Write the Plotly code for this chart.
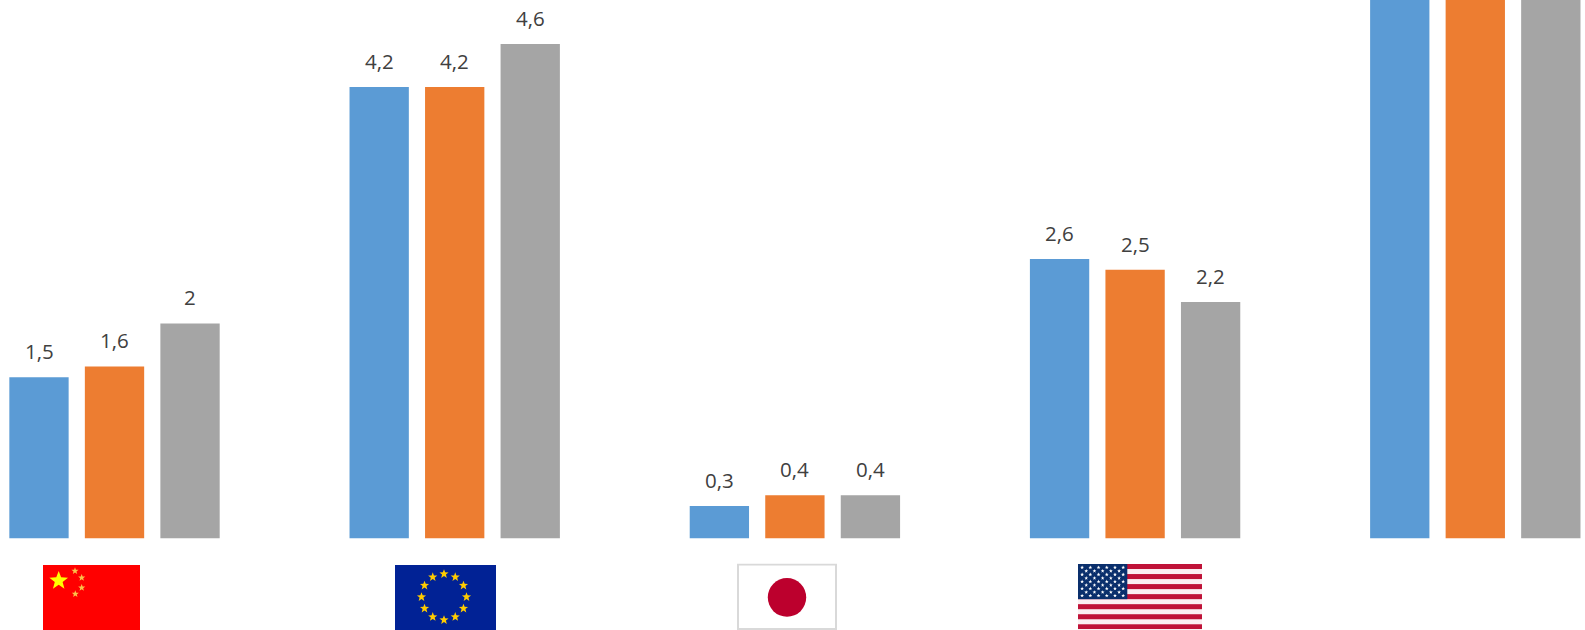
import base64
import math
import plotly.graph_objects as go

# ---- data ----
categories = ["China", "UE", "Japón", "EE.UU.", "Otros"]
series_a = [1.5, 4.2, 0.3, 2.6, 5.6]
series_b = [1.6, 4.2, 0.4, 2.5, 5.6]
series_c = [2.0, 4.6, 0.4, 2.2, 5.6]
series_names = ["Serie 1", "Serie 2", "Serie 3"]
series_colors = ["#5B9BD5", "#ED7D31", "#A5A5A5"]

W, H = 1585, 630
Y_TOP = 5.01
Y_BOTTOM = -0.853
SLOT_PX = 75.5
LABEL_LIFT_PX = 26


def star(cx, cy, r, fill, rot=0.0):
    pts = []
    for k in range(10):
        rad = r if k % 2 == 0 else r * 0.42
        a = -math.pi / 2 + rot + k * math.pi / 5
        pts.append(f"{cx + rad * math.cos(a):.2f},{cy + rad * math.sin(a):.2f}")
    return f'<polygon points="{" ".join(pts)}" fill="{fill}"/>'


def uri(w, h, body):
    svg = (f'<svg xmlns="http://www.w3.org/2000/svg" width="{w}" height="{h}" '
           f'viewBox="0 0 {w} {h}">{body}</svg>')
    return "data:image/svg+xml;base64," + base64.b64encode(svg.encode()).decode()


def flag_china():
    w, h = 97, 65
    b = f'<rect width="{w}" height="{h}" fill="#FF0000"/>'
    b += star(15.7, 15.7, 9.8, "#FFFF00")
    for (x, y) in [(32, 6), (38.7, 12.7), (38.7, 22.7), (32.3, 29)]:
        b += star(x, y, 3.7, "#FBC24A")
    return uri(w, h, b)


def flag_eu():
    w, h = 101, 65
    b = f'<rect width="{w}" height="{h}" fill="#012295"/>'
    for k in range(12):
        a = k * math.pi / 6
        b += star(49 + 22.5 * math.cos(a), 32 + 23 * math.sin(a), 4.8, "#FFCC00")
    return uri(w, h, b)


def flag_japan():
    w, h = 100, 66
    b = (f'<rect x="1" y="1" width="{w - 2}" height="{h - 2}" fill="#FFFFFF" '
         f'stroke="#D9D9D9" stroke-width="2"/>')
    b += '<circle cx="50" cy="33.7" r="19.2" fill="#BC002D"/>'
    return uri(w, h, b)


def flag_usa():
    w, h = 124, 65.3
    sh = h / 13
    b = f'<rect width="{w}" height="{h}" fill="#FBEFF2"/>'
    for k in range(0, 13, 2):
        b += f'<rect y="{k * sh:.2f}" width="{w}" height="{sh:.2f}" fill="#BF1238"/>'
    cw, ch = 49.3, 7 * sh
    b += f'<rect width="{cw}" height="{ch:.2f}" fill="#0A2F6C"/>'
    for row in range(9):
        n = 6 if row % 2 == 0 else 5
        for col in range(n):
            x = cw * (2 * col + (1 if row % 2 == 0 else 2)) / 12
            y = ch * (row + 1) / 10
            b += star(x, y, 2.0, "#FFFFFF")
    return uri(w, h, b)


def placed(source, left, top, width, height):
    return dict(source=source, xref="paper", yref="paper",
                x=left / W, y=1 - top / H,
                sizex=width / W, sizey=height / H,
                xanchor="left", yanchor="top", sizing="stretch", layer="above")


all_series = [series_a, series_b, series_c]
fig = go.Figure()
for name, vals, col in zip(series_names, all_series, series_colors):
    fig.add_trace(go.Bar(name=name, x=categories, y=vals,
                         marker=dict(color=col, line=dict(width=0))))

annotations = []
for i, vals in enumerate(all_series):
    for cat, v in zip(categories, vals):
        if v < Y_TOP:
            annotations.append(dict(
                x=cat, y=v, xref="x", yref="y",
                text=f"{v:g}".replace(".", ","),
                showarrow=False, xanchor="center", yanchor="middle",
                xshift=(i - 1) * SLOT_PX, yshift=LABEL_LIFT_PX,
                font=dict(family="Open Sans", size=20.5, color="#404040")))

fig.update_layout(
    width=W, height=H,
    margin=dict(l=0, r=0, t=0, b=0),
    paper_bgcolor="white", plot_bgcolor="white",
    barmode="group", bargap=0.334, bargroupgap=0.2146,
    showlegend=False,
    separators=", ",
    xaxis=dict(type="category", range=[-0.3366, 4.3225], visible=False),
    yaxis=dict(range=[Y_BOTTOM, Y_TOP], visible=False),
    annotations=annotations,
    images=[
        placed(flag_china(), 43, 565, 97, 65),
        placed(flag_eu(), 395, 565, 101, 65),
        placed(flag_japan(), 737, 563.5, 100, 66.5),
        placed(flag_usa(), 1078, 564, 124, 65.3),
    ],
)

fig.write_html("out.html", config=dict(displayModeBar=False),
               post_script="document.body.style.margin='0';document.documentElement.style.overflow='hidden';")
